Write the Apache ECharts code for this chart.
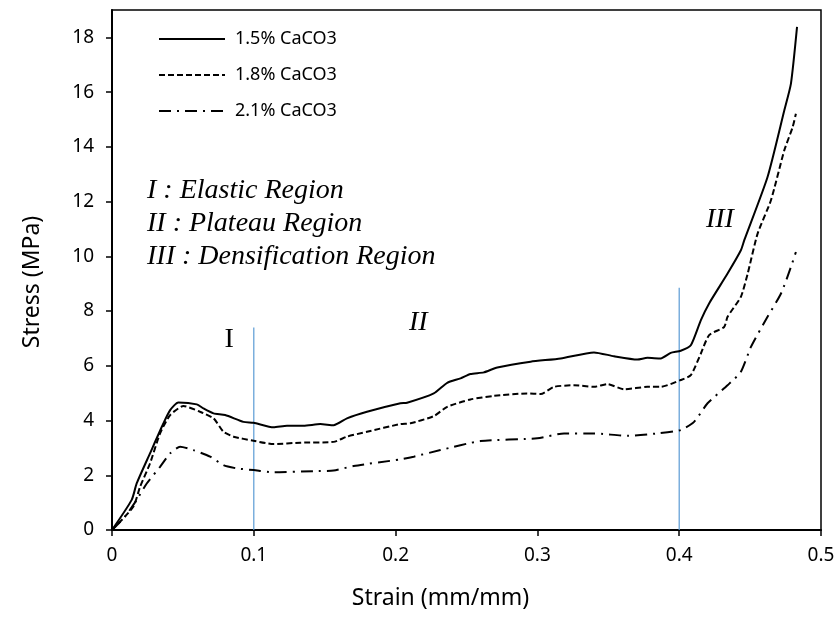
<!DOCTYPE html>
<html>
<head>
<meta charset="utf-8">
<script src="https://cdn.jsdelivr.net/npm/echarts@6/dist/echarts.min.js"></script>
<style>
  html, body { margin: 0; padding: 0; background: #fff; }
  #chart { width: 838px; height: 623px; }
</style>
</head>
<body>
<div id="chart"></div>
<script>
// strain (mm/mm), stress (MPa)
const s15 = [
  [0, 0], [0.0139, 1.10], [0.0174, 1.70], [0.0268, 2.80], [0.0362, 3.89], [0.041, 4.38],
  [0.0468, 4.66], [0.0598, 4.59], [0.0645, 4.44], [0.0716, 4.26], [0.0798, 4.20],
  [0.0927, 3.95], [0.0998, 3.92], [0.1139, 3.75], [0.1234, 3.81], [0.1351, 3.81],
  [0.1469, 3.87], [0.1563, 3.83], [0.1657, 4.08], [0.1798, 4.32], [0.2034, 4.63],
  [0.2081, 4.65], [0.2269, 4.99], [0.2364, 5.38], [0.2458, 5.54], [0.2528, 5.70],
  [0.2622, 5.76], [0.2717, 5.94], [0.2952, 6.15], [0.3164, 6.27], [0.3399, 6.49],
  [0.354, 6.35], [0.3705, 6.23], [0.3776, 6.29], [0.387, 6.27], [0.394, 6.47],
  [0.4011, 6.55], [0.4082, 6.75], [0.4153, 7.67], [0.4211, 8.28], [0.4341, 9.37],
  [0.4435, 10.22], [0.4459, 10.59], [0.4623, 12.90], [0.4741, 15.33], [0.4788, 16.31],
  [0.4831, 18.38]
]
const s18 = [
  [0, 0], [0.015, 0.85], [0.0198, 1.58], [0.0268, 2.43], [0.0339, 3.53], [0.041, 4.20],
  [0.0504, 4.53], [0.0621, 4.32], [0.0716, 4.08], [0.0786, 3.59], [0.0857, 3.41],
  [0.0998, 3.26], [0.1139, 3.14], [0.1328, 3.19], [0.1563, 3.22], [0.1657, 3.41],
  [0.1798, 3.59], [0.2034, 3.87], [0.2105, 3.90], [0.2269, 4.16], [0.2364, 4.50],
  [0.2528, 4.77], [0.2693, 4.90], [0.2928, 4.99], [0.3023, 4.97], [0.3117, 5.23],
  [0.3258, 5.29], [0.3399, 5.23], [0.3493, 5.33], [0.3611, 5.14], [0.3776, 5.23],
  [0.387, 5.23], [0.4011, 5.48], [0.4082, 5.66], [0.4153, 6.45], [0.4211, 7.12],
  [0.4317, 7.42], [0.4341, 7.79], [0.4435, 8.52], [0.4483, 9.37], [0.4553, 10.83],
  [0.4647, 12.05], [0.4741, 13.87], [0.48, 14.72], [0.4823, 15.21]
]
const s21 = [
  [0, 0], [0.0092, 0.49], [0.0174, 1.10], [0.0245, 1.70], [0.0339, 2.31], [0.041, 2.80],
  [0.048, 3.04], [0.0574, 2.92], [0.0692, 2.68], [0.0786, 2.37], [0.0881, 2.25],
  [0.0998, 2.19], [0.1139, 2.11], [0.1422, 2.15], [0.1563, 2.17], [0.1704, 2.34],
  [0.2034, 2.58], [0.2128, 2.68], [0.2316, 2.92], [0.2599, 3.25], [0.2999, 3.35],
  [0.3188, 3.53], [0.3399, 3.53], [0.3635, 3.44], [0.3846, 3.53], [0.4011, 3.65],
  [0.4105, 3.95], [0.42, 4.63], [0.4341, 5.29], [0.4435, 5.78], [0.4506, 6.69],
  [0.4623, 7.79], [0.4718, 8.64], [0.4788, 9.61], [0.4823, 10.16]
]
const seriesNames = ['1.5% CaCO3', '1.8% CaCO3', '2.1% CaCO3']
// region boundaries (x, top of line)
const bounds = [[0.1, 7.4], [0.4, 8.85]]
// region labels on the plot
const regionMarks = [[0.0826, 6.94, 'I', 'normal'], [0.216, 7.59, 'II', 'italic'], [0.4287, 11.34, 'III', 'italic']]
const regionText = ['I : Elastic Region', 'II : Plateau Region', 'III : Densification Region']
const yTicks = [0, 2, 4, 6, 8, 10, 12, 14, 16, 18]

const chart = echarts.init(document.getElementById('chart'))

let series = [
  { name: seriesNames[0], type: 'line', data: s15, showSymbol: false, symbol: 'none', smooth: 0.2,
    lineStyle: { color: '#000', width: 2, type: 'solid' }, itemStyle: { color: '#000' }, z: 3 },
  { name: seriesNames[1], type: 'line', data: s18, showSymbol: false, symbol: 'none', smooth: 0.2,
    lineStyle: { color: '#000', width: 2, type: [6, 3] }, itemStyle: { color: '#000' }, z: 3 },
  { name: seriesNames[2], type: 'line', data: s21, showSymbol: false, symbol: 'none', smooth: 0.2,
    lineStyle: { color: '#000', width: 2, type: [12, 6, 2, 6] }, itemStyle: { color: '#000' }, z: 3 }
]
bounds.forEach(b => {
  series.push({
    type: 'line', data: [[b[0], 0], [b[0], b[1]]], symbol: 'none', silent: true,
    lineStyle: { color: '#5B9BD5', width: 1.2 }, z: 2
  })
})
// I / II / III markers inside the plot
series.push({
  type: 'scatter', symbolSize: 0, silent: true, itemStyle: { color: '#000', opacity: 1 },
  data: regionMarks.map(r => ({ value: [r[0], r[1]], name: r[2], label: { fontStyle: r[3] } })),
  label: { show: true, formatter: p => p.name, fontFamily: 'Liberation Serif', fontSize: 28,
    color: '#000', opacity: 1, textBorderWidth: 0, position: 'inside' }
})

let option = {
  animation: false,
  grid: { left: 112, right: 17, top: 10, bottom: 93, show: true, borderColor: '#000', borderWidth: 1.5 },
  legend: {
    data: seriesNames,
    orient: 'vertical',
    left: 158, top: 29, padding: 0,
    itemWidth: 66, itemHeight: 20, itemGap: 16,
    itemStyle: { opacity: 0 },
    textStyle: { fontFamily: 'Noto Sans', fontSize: 18, lineHeight: 20, color: '#000', padding: [0, 0, 0, 5] }
  },
  xAxis: {
    type: 'value', min: 0, max: 0.5, interval: 0.1,
    name: 'Strain (mm/mm)', nameLocation: 'middle', nameGap: 57,
    nameTextStyle: { fontFamily: 'Noto Sans', fontSize: 23, color: '#000', padding: [0, 52, 0, 0] },
    axisLine: { show: true, lineStyle: { color: '#000', width: 2 } },
    axisTick: { show: true, inside: false, length: 6, lineStyle: { color: '#000', width: 1.5 } },
    axisLabel: { fontFamily: 'Noto Sans', fontSize: 19, color: '#000', margin: 16,
      formatter: v => (v === 0 ? '0' : String(+v.toFixed(1))) },
    splitLine: { show: false }
  },
  yAxis: {
    type: 'value', min: 0, max: 19, interval: 2,
    name: 'Stress (MPa)', nameLocation: 'middle', nameGap: 68,
    nameTextStyle: { fontFamily: 'Noto Sans', fontSize: 23, color: '#000', padding: [0, 24, 0, 0] },
    axisLine: { show: true, lineStyle: { color: '#000', width: 2 } },
    axisTick: { show: true, inside: false, length: 6, lineStyle: { color: '#000', width: 1.5 }, customValues: yTicks },
    axisLabel: { fontFamily: 'Noto Sans', fontSize: 19, color: '#000', margin: 18, customValues: yTicks },
    splitLine: { show: false }
  },
  graphic: regionText.map((t, i) => ({
    type: 'text', left: 147, top: 177 + i * 33,
    style: { text: t, font: 'italic 28px "Liberation Serif"', fill: '#000' }
  })),
  series: series
}

chart.setOption(option)
</script>
</body>
</html>
